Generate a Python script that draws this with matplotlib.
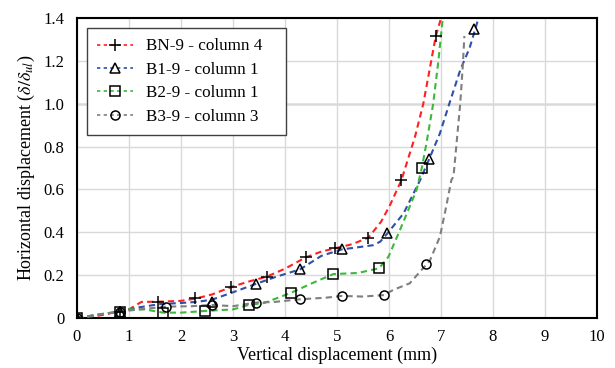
import matplotlib.pyplot as plt
from matplotlib.lines import Line2D
import numpy as np

plt.rcParams['font.family'] = ['Liberation Serif', 'DejaVu Serif']
plt.rcParams['mathtext.fontset'] = 'stix'

# curve data (vertical displacement mm, horizontal displacement ratio)
bn_x = [0, 0.4, 0.8, 1.0, 1.24, 1.56, 2.0, 2.27, 2.6, 2.97, 3.3, 3.65, 4.0, 4.4, 4.7, 4.96, 5.3, 5.6, 5.67, 5.85, 6.02, 6.24, 6.5, 6.66, 6.9, 6.99]
bn_y = [0, 0.01, 0.03, 0.04, 0.075, 0.076, 0.08, 0.09, 0.11, 0.145, 0.17, 0.193, 0.23, 0.283, 0.31, 0.325, 0.345, 0.375, 0.395, 0.45, 0.527, 0.644, 0.846, 1.0, 1.316, 1.39]
b1_x = [0, 0.4, 0.83, 1.2, 1.6, 2.0, 2.3, 2.59, 3.0, 3.44, 3.8, 4.29, 4.7, 5.09, 5.4, 5.7, 5.83, 5.97, 6.28, 6.6, 6.77, 6.98, 7.16, 7.37, 7.55, 7.71]
b1_y = [0, 0.015, 0.03, 0.05, 0.065, 0.07, 0.075, 0.085, 0.12, 0.159, 0.19, 0.227, 0.29, 0.32, 0.33, 0.34, 0.356, 0.395, 0.488, 0.644, 0.74, 0.862, 1.0, 1.157, 1.26, 1.39]
b2_x = [0, 0.5, 0.83, 1.0, 1.3, 1.66, 2.0, 2.47, 3.0, 3.3, 3.6, 4.12, 4.5, 4.93, 5.4, 5.81, 5.99, 6.21, 6.53, 6.63, 6.72, 6.85, 6.95, 7.03]
b2_y = [0, 0.02, 0.03, 0.04, 0.04, 0.025, 0.025, 0.033, 0.04, 0.061, 0.07, 0.118, 0.16, 0.205, 0.21, 0.232, 0.286, 0.41, 0.597, 0.699, 0.815, 1.0, 1.2, 1.39]
b3_x = [0, 0.4, 0.83, 1.2, 1.72, 2.2, 2.59, 3.0, 3.44, 3.8, 4.28, 4.8, 5.09, 5.5, 5.91, 6.08, 6.4, 6.72, 6.79, 6.98, 7.1, 7.2, 7.24, 7.37, 7.42, 7.45]
b3_y = [0, 0.015, 0.03, 0.04, 0.053, 0.055, 0.061, 0.055, 0.072, 0.075, 0.087, 0.095, 0.103, 0.1, 0.107, 0.131, 0.162, 0.25, 0.27, 0.38, 0.52, 0.644, 0.66, 1.0, 1.18, 1.316]

# marker points
bn_mx = [0, 0.83, 1.56, 2.27, 2.97, 3.65, 4.40, 4.96, 5.60, 6.23, 6.90]
bn_my = [0, 0.03, 0.076, 0.092, 0.146, 0.193, 0.283, 0.325, 0.375, 0.644, 1.316]
b1_mx = [0, 0.83, 2.59, 3.44, 4.29, 5.09, 5.97, 6.77, 7.64]
b1_my = [0, 0.03, 0.076, 0.159, 0.227, 0.32, 0.395, 0.74, 1.347]
b2_mx = [0, 0.83, 1.66, 2.47, 3.30, 4.12, 4.93, 5.81, 6.63]
b2_my = [0, 0.03, 0.025, 0.033, 0.061, 0.118, 0.205, 0.232, 0.699]
b3_mx = [0, 0.83, 1.72, 2.59, 3.44, 4.28, 5.09, 5.91, 6.72]
b3_my = [0, 0.03, 0.053, 0.061, 0.072, 0.087, 0.103, 0.107, 0.25]

labels = ['BN-9 - column 4', 'B1-9 - column 1', 'B2-9 - column 1', 'B3-9 - column 3']
colors = ['#ff2020', '#2f4fa8', '#3cb83c', '#7f7f7f']
markers = ['+', '^', 's', 'o']

series = [(bn_x, bn_y, bn_mx, bn_my), (b1_x, b1_y, b1_mx, b1_my),
          (b2_x, b2_y, b2_mx, b2_my), (b3_x, b3_y, b3_mx, b3_my)]

fig = plt.figure(figsize=(6.15, 3.68), dpi=100)
ax = fig.add_axes([0.1252, 0.1359, 0.8455, 0.8151])

ax.grid(True, color='#d9d9d9', lw=1.0, zorder=0)
ax.axhline(1.0, color='#808080', lw=1.0, zorder=1)

handles = []
for (x, y, mx, my), c, m, lab in zip(series, colors, markers, labels):
    ax.plot(x, y, color=c, lw=1.5, ls=(0, (3, 2)), zorder=3)
    ms = 9 if m == '+' else 6.5
    ax.plot(mx, my, ls='none', marker=m, ms=ms, mfc='none', mec='black', mew=1.1, zorder=4)
    handles.append(Line2D([], [], color=c, lw=1.2, ls=(0, (2, 2)), marker=m, ms=ms,
                          mfc='none', mec='black', mew=1.1, label=lab))

ax.set_xlim(0, 10)
ax.set_ylim(0, 1.4)
ax.set_xticks(np.arange(0, 11, 1))
ax.set_yticks(np.arange(0, 1.41, 0.2))
ax.set_yticklabels(['0'] + ['%.1f' % v for v in np.arange(0.2, 1.41, 0.2)])
ax.tick_params(length=0, labelsize=12)
ax.tick_params(axis='x', pad=8)
ax.tick_params(axis='y', pad=9)
for s in ax.spines.values():
    s.set_linewidth(1.5)
    s.set_color('black')

ax.set_xlabel('Vertical displacement (mm)', fontsize=13, labelpad=1)
ax.set_ylabel(r'Horizontal displacement ($\delta/\delta_{ul}$)', fontsize=13, labelpad=5)

leg = ax.legend(handles=handles, loc='upper left', bbox_to_anchor=(0.0187, 0.966, 0.383, 0.0),
                mode='expand', borderaxespad=0, fontsize=12.3, fancybox=False,
                edgecolor='#404040', framealpha=1, handlelength=2.1, borderpad=0.6,
                labelspacing=0.43, handletextpad=0.75)
leg.get_frame().set_linewidth(1.0)

fig.savefig('out.png', dpi=100, facecolor='white')
